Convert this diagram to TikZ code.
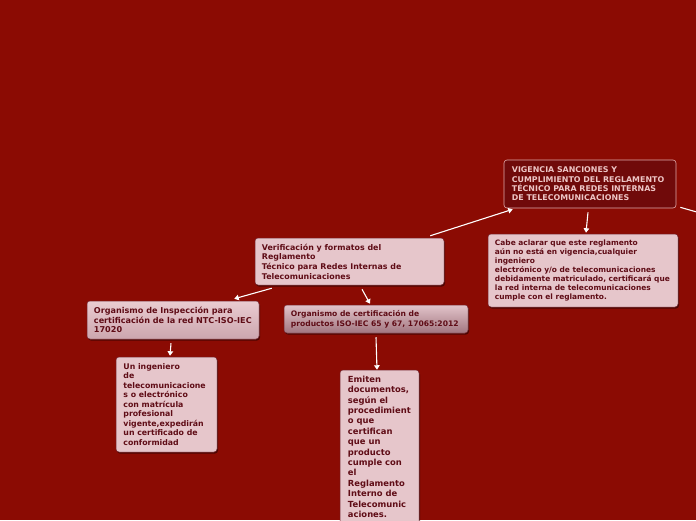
\documentclass[tikz,border=0pt]{standalone}
\usepackage{fontspec}
\setmainfont{DejaVu Sans}
\usetikzlibrary{arrows.meta,shadows}
\definecolor{bgred}{RGB}{139,11,3}
\definecolor{boxfill}{RGB}{230,198,203}
\definecolor{boxline}{RGB}{115,35,45}
\definecolor{txtdark}{RGB}{95,12,22}
\definecolor{vigfill}{RGB}{112,10,10}
\definecolor{vigline}{RGB}{225,170,172}
\definecolor{vigtxt}{RGB}{238,198,198}
\definecolor{graytop}{RGB}{226,196,202}
\definecolor{graybot}{RGB}{162,118,128}
\definecolor{insptop}{RGB}{234,204,209}
\definecolor{inspbot}{RGB}{204,166,174}
\tikzset{
  card/.style={draw=boxline, line width=0.5pt, fill=boxfill, rounded corners=3pt,
    inner sep=0pt, drop shadow={shadow xshift=1pt, shadow yshift=-1.5pt, opacity=0.45, fill=black}},
  darkcard/.style={draw=vigline, line width=0.6pt, fill=vigfill, rounded corners=3pt, inner sep=0pt},
  txt/.style={inner sep=0pt, align=left, text=txtdark},
  conn/.style={draw=white, line width=1.1pt, -{Triangle[length=4.5pt,width=5.5pt]}},
  plain/.style={draw=white, line width=1.1pt}
}
\begin{document}
\begin{tikzpicture}[x=1pt,y=-1pt]
\useasboundingbox (0,0) rectangle (696,520);
\clip (0,0) rectangle (696,520);
\fill[bgred] (0,0) rectangle (696,520);

% boxes
\node[darkcard, minimum width=172pt, minimum height=48pt] (vig) at (590,184) {};
\node[card, minimum width=190pt, minimum height=73pt] (cabe) at (583,270.5) {};
\node[card, minimum width=189pt, minimum height=47pt] (verif) at (349.5,261.5) {};
\node[card, minimum width=184pt, minimum height=28pt, top color=graytop, bottom color=graybot] (cert) at (376,319) {};
\node[card, minimum width=172pt, minimum height=38pt, top color=insptop, bottom color=inspbot] (insp) at (173,320) {};
\node[card, minimum width=101pt, minimum height=95pt] (ing) at (166.5,404.5) {};
\node[card, minimum width=79pt, minimum height=170pt] (emi) at (379.5,455) {};

% texts
\node[txt, text=vigtxt, anchor=west, font=\bfseries\fontsize{7.9}{9.3}\selectfont] (vigT) at ([xshift=8pt]vig.west)
  {VIGENCIA SANCIONES Y\\CUMPLIMIENTO DEL REGLAMENTO\\TÉCNICO PARA REDES INTERNAS\\DE TELECOMUNICACIONES};
\node[txt, anchor=west, font=\bfseries\fontsize{7.45}{9.1}\selectfont] (cabeT) at ([xshift=7pt]cabe.west)
  {Cabe aclarar que este reglamento\\aún no está en vigencia,cualquier\\ingeniero\\electrónico y/o de telecomunicaciones\\debidamente matriculado, certificará que\\la red interna de telecomunicaciones\\cumple con el reglamento.};
\node[txt, anchor=west, font=\bfseries\fontsize{7.9}{9.7}\selectfont] (verifT) at ([xshift=7pt]verif.west)
  {Verificación y formatos del\\Reglamento\\Técnico para Redes Internas de\\Telecomunicaciones};
\node[txt, anchor=west, font=\bfseries\fontsize{7.6}{10}\selectfont] (certT) at ([xshift=7pt]cert.west)
  {Organismo de certificación de\\productos ISO-IEC 65 y 67, 17065:2012};
\node[txt, anchor=west, font=\bfseries\fontsize{8.1}{9.7}\selectfont] (inspT) at ([xshift=7pt]insp.west)
  {Organismo de Inspección para\\certificación de la red NTC-ISO-IEC\\17020};
\node[txt, anchor=west, font=\bfseries\fontsize{7.8}{9.5}\selectfont] (ingT) at ([xshift=7.5pt]ing.west)
  {Un ingeniero\\de\\telecomunicacione\\s o electrónico\\con matrícula\\profesional\\vigente,expedirán\\un certificado de\\conformidad};
\node[txt, anchor=north west, font=\bfseries\fontsize{8.4}{10.4}\selectfont] (emiT) at ([xshift=8pt,yshift=-6pt]emi.north west)
  {Emiten\\documentos,\\según el\\procedimient\\o que\\certifican\\que un\\producto\\cumple con\\el\\Reglamento\\Interno de\\Telecomunic\\aciones.};

% connectors
\coordinate (offright) at (702,213.5);
\draw[conn] ([xshift=-14pt,yshift=2pt]verif.north east) -- ([xshift=9pt,yshift=-1pt]vig.south west);
\draw[conn] ([xshift=-2pt,yshift=-4pt]vig.south) -- ([xshift=3pt,yshift=1pt]cabe.north);
\draw[plain] ([xshift=4pt,yshift=1pt]vig.south east) -- (offright);
\draw[conn] ([xshift=17pt,yshift=-3pt]verif.south west) -- ([xshift=-25pt,yshift=2pt]insp.north east);
\draw[conn] ([xshift=12.5pt,yshift=-4pt]verif.south) -- ([xshift=-6pt,yshift=1pt]cert.north);
\draw[conn] ([xshift=-2pt,yshift=-4pt]insp.south) -- ([xshift=3.5pt,yshift=1pt]ing.north);
\draw[conn] ([yshift=-4pt]cert.south) -- ([xshift=-2.5pt]emi.north);
\end{tikzpicture}
\end{document}
